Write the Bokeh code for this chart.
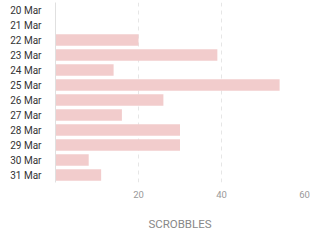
from bokeh.plotting import figure
from bokeh.models import Range1d, FactorRange, FixedTicker
from bokeh.embed import file_html
from bokeh.resources import INLINE

dates = ["20 Mar", "21 Mar", "22 Mar", "23 Mar", "24 Mar", "25 Mar",
         "26 Mar", "27 Mar", "28 Mar", "29 Mar", "30 Mar", "31 Mar"]
scrobbles = [0, 0, 20, 39, 14, 54, 26, 16, 30, 30, 8, 11]
x_ticks = [20, 40, 60]

p = figure(y_range=FactorRange(factors=list(reversed(dates))),
           x_range=Range1d(0, 60),
           frame_width=249, frame_height=180,
           min_border_left=55, min_border_right=27, min_border_top=2,
           min_border_bottom=62,
           output_backend="svg", toolbar_location=None)

p.hbar(y=dates, right=scrobbles, left=0, height=0.78, color="#f2cccc", line_color=None)

font = "Roboto"
p.outline_line_color = None
p.background_fill_color = "white"
p.border_fill_color = "white"

p.ygrid.grid_line_color = None
p.xgrid.ticker = FixedTicker(ticks=x_ticks)
p.xgrid.grid_line_color = "#e6e6e6"
p.xgrid.grid_line_dash = "4 4"
p.xgrid.grid_line_width = 1

p.xaxis.ticker = FixedTicker(ticks=x_ticks)
p.xaxis.axis_line_color = None
p.xaxis.major_tick_line_color = None
p.xaxis.minor_tick_line_color = None
p.xaxis.major_tick_out = 0
p.xaxis.major_label_standoff = 8
p.xaxis.major_label_text_color = "#999999"
p.xaxis.major_label_text_font = font
p.xaxis.major_label_text_font_size = "9.5px"
p.xaxis.axis_label = "SCROBBLES"
p.xaxis.axis_label_text_font = font
p.xaxis.axis_label_text_font_style = "normal"
p.xaxis.axis_label_text_font_size = "11.5px"
p.xaxis.axis_label_text_color = "#888888"
p.xaxis.axis_label_standoff = 16

p.yaxis.axis_line_color = "#e0e0e0"
p.yaxis.major_tick_line_color = None
p.yaxis.minor_tick_line_color = None
p.yaxis.major_tick_out = 0
p.yaxis.major_label_standoff = 14
p.yaxis.major_label_text_color = "#333333"
p.yaxis.major_label_text_font = font
p.yaxis.major_label_text_font_size = "10px"

open("out.html", "w").write(file_html(p, INLINE))
